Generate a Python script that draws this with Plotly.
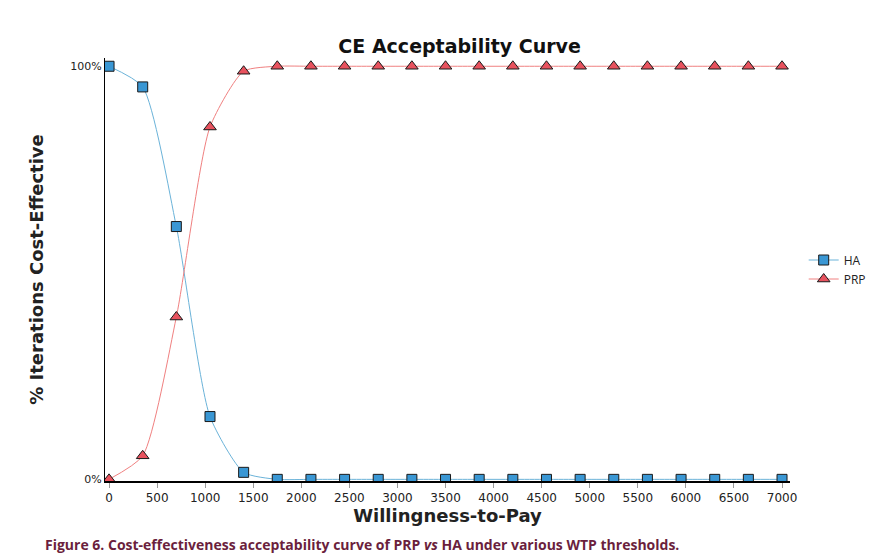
import plotly.graph_objects as go

wtp = [0, 350, 700, 1050, 1400, 1750, 2100, 2450, 2800, 3150, 3500, 3850, 4200,
       4550, 4900, 5250, 5600, 5950, 6300, 6650, 7000]
ha = [1.0, 0.95, 0.612, 0.152, 0.017] + [0.0] * 16
prp = [0.0, 0.057, 0.393, 0.853, 0.988] + [1.0] * 16
xticks = list(range(0, 7001, 500))

fig = go.Figure()
fig.add_trace(go.Scatter(x=wtp, y=ha, name="HA", mode="lines+markers",
    line=dict(color="#6bb3d9", width=1, shape="spline", smoothing=0.6),
    marker=dict(symbol="square", size=10, color="#3a97d4", line=dict(color="#1a1a1a", width=1))))
fig.add_trace(go.Scatter(x=wtp, y=prp, name="PRP", mode="lines+markers",
    line=dict(color="#f08080", width=1, shape="spline", smoothing=0.6),
    marker=dict(symbol="triangle-up", size=11, color="#e8525e", line=dict(color="#1a1a1a", width=1))))

fig.update_layout(
    width=889, height=556, plot_bgcolor="white", paper_bgcolor="white",
    margin=dict(l=97, r=107, t=50, b=83, autoexpand=False),
    font=dict(family="DejaVu Sans", color="#222", size=11),
    title=dict(text="<b>CE Acceptability Curve</b>", x=0.508, xanchor="center", y=0.943,
               font=dict(size=19, family="DejaVu Sans", color="#111")),
    legend=dict(x=1.02, y=0.5, xanchor="left", yanchor="middle", font=dict(size=12, family="Open Sans"),
                bgcolor="rgba(0,0,0,0)"),
    xaxis=dict(range=[-42, 7083], tickvals=xticks, ticktext=[str(v) for v in xticks],
               showgrid=False, zeroline=False, showline=True, linecolor="black", linewidth=1.5,
               ticks="outside", ticklen=5, tickcolor="#999", tickfont=dict(size=12),
               title=dict(text="<b>Willingness-to-Pay</b>", font=dict(size=18), standoff=4)),
    yaxis=dict(range=[-0.004, 1.02], tickvals=[0, 1], ticktext=["0%", "100%"],
               showgrid=False, zeroline=False, showline=True, linecolor="black", linewidth=1,
               ticks="", tickfont=dict(size=11),
               title=dict(text="<b>% Iterations Cost-Effective</b>", font=dict(size=18), standoff=22)),
)
fig.add_annotation(text="<b>Figure 6. Cost-effectiveness acceptability curve of PRP <i>vs</i> HA under various WTP thresholds.</b>",
                   xref="paper", yref="paper", x=-0.09, y=-0.15, xanchor="left", yanchor="middle",
                   showarrow=False, font=dict(size=14, family="Open Sans", color="#6b1f3d"))
fig.write_html("out.html")
